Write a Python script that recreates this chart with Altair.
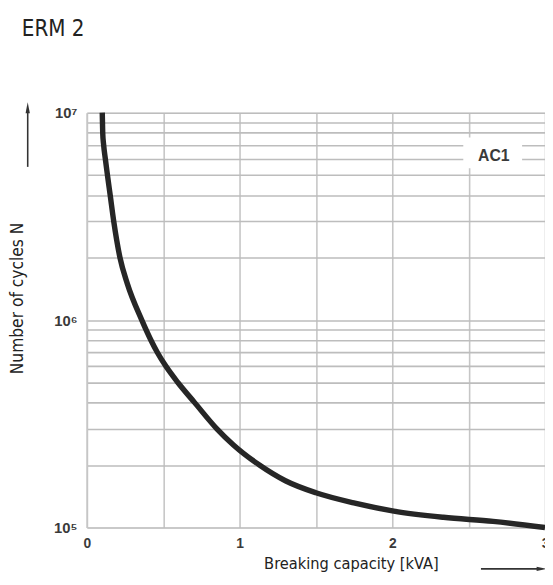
import altair as alt
import pandas as pd

# ---- data ----
cap_kva = [0.101, 0.104, 0.110, 0.121, 0.135, 0.153, 0.176, 0.217, 0.265, 0.360,
           0.420, 0.461, 0.517, 0.596, 0.706, 0.850, 0.960, 1.130, 1.300, 1.500,
           1.755, 2.010, 2.335, 2.660, 3.000]
cycles = [1.0e7, 8.0e6, 7.0e6, 6.0e6, 5.0e6, 4.0e6, 3.0e6, 2.0e6, 1.5e6, 1.0e6,
          8.0e5, 7.0e5, 6.0e5, 5.0e5, 4.0e5, 3.0e5, 2.5e5, 2.0e5, 1.68e5, 1.47e5,
          1.31e5, 1.2e5, 1.12e5, 1.07e5, 1.0e5]

x_grid = [0, 0.5, 1, 1.5, 2, 2.5, 3]
x_tick_labels = [0, 1, 2, 3]
y_grid = [1e5, 2e5, 3e5, 4e5, 5e5, 6e5, 7e5, 8e5, 9e5,
          1e6, 2e6, 3e6, 4e6, 5e6, 6e6, 7e6, 8e6, 9e6, 1e7]
decade_values = [1e5, 1e6, 1e7]
decade_labels = ["10\u2075", "10\u2076", "10\u2077"]

ac_label = ["AC1"]
ac_x = [2.665]
ac_y = [6.17e6]
box_x = [2.465]
box_x2 = [2.85]
box_y = [5.4e6]
box_y2 = [7.6e6]

chart_title = "ERM 2"
x_title = "Breaking capacity [kVA]"
y_title = "Number of cycles N"

COND = "Liberation Sans Narrow, Arial Narrow, DejaVu Sans Condensed, sans-serif"
ARIAL = "Liberation Sans, Arial, Helvetica, sans-serif"

W, H = 465, 421

curve_df = pd.DataFrame({"kva": cap_kva, "n": cycles})
box_df = pd.DataFrame({"kva": box_x, "kva2": box_x2, "n": box_y, "n2": box_y2})
ac_df = pd.DataFrame({"kva": ac_x, "n": ac_y, "label": ac_label})

y_label_expr = " : ".join(
    [f"datum.value == {v} ? '{l}'" for v, l in zip(decade_values, decade_labels)]
) + " : ''"
x_label_expr = "indexof([" + ",".join(str(v) for v in x_tick_labels) + \
    "], datum.value) >= 0 ? format(datum.value, 'd') : ''"

xscale = alt.Scale(domain=[0, 3], nice=False, zero=False)
yscale = alt.Scale(type="log", domain=[1e5, 1e7], nice=False)

x_axis = alt.Axis(values=x_grid, labelExpr=x_label_expr, grid=True, ticks=False,
                  domain=False, labelFlush=False, labelOverlap=False,
                  labelFont=ARIAL, labelFontSize=14, labelFontWeight="bold",
                  labelColor="#3a3a3a", labelPadding=9,
                  gridColor="#c6c6c6", gridWidth=1.6,
                  title=x_title, titleFont=COND, titleFontSize=16.5,
                  titleFontWeight="normal", titleColor="#222222",
                  titleX=268, titleY=37, titleAnchor="middle",
                  titleAlign="center", titleBaseline="middle")
y_axis = alt.Axis(values=y_grid, labelExpr=y_label_expr, grid=True, ticks=False,
                  domain=True, domainColor="#c6c6c6", domainWidth=1.6,
                  labelOverlap=False, labelFlush=False,
                  labelFont=ARIAL, labelFontSize=15, labelFontWeight="bold",
                  labelColor="#3a3a3a", labelPadding=10,
                  gridColor="#bdbdbd", gridWidth=1.6,
                  title=y_title, titleFont=COND, titleFontSize=17.5,
                  titleFontWeight="normal", titleColor="#222222",
                  titleAngle=270, titleX=-70, titleY=188,
                  titleAlign="center", titleBaseline="middle")

curve = alt.Chart(curve_df).mark_line(
    interpolate="monotone", color="#262626", strokeWidth=5.5, strokeCap="butt"
).encode(
    x=alt.X("kva:Q", scale=xscale, axis=x_axis),
    y=alt.Y("n:Q", scale=yscale, axis=y_axis),
)

box = alt.Chart(box_df).mark_rect(color="white").encode(
    x=alt.X("kva:Q", scale=xscale), x2="kva2:Q",
    y=alt.Y("n:Q", scale=yscale), y2="n2:Q",
)

ac_text = alt.Chart(ac_df).mark_text(
    font=ARIAL, fontSize=16, fontWeight="bold", color="#3a3a3a",
    align="center", baseline="middle"
).encode(
    x=alt.X("kva:Q", scale=xscale), y=alt.Y("n:Q", scale=yscale), text="label:N"
)

one = alt.Data(values=[{}])
arrow_head = "M0,-1L-0.4,1L0.4,1Z"

up_shaft = alt.Chart(one).mark_rule(color="#333333", strokeWidth=1.6).encode(
    x=alt.value(-60), y=alt.value(-4), y2=alt.value(55))
up_head = alt.Chart(one).mark_point(shape=arrow_head, filled=True, color="#333333",
                                    size=120, opacity=1).encode(
    x=alt.value(-60), y=alt.value(-5))
right_shaft = alt.Chart(one).mark_rule(color="#333333", strokeWidth=1.6).encode(
    x=alt.value(400), x2=alt.value(461), y=alt.value(463))
right_head = alt.Chart(one).mark_point(shape=arrow_head, filled=True, color="#333333",
                                       size=120, angle=90, opacity=1).encode(
    x=alt.value(462), y=alt.value(463))

title_text = alt.Chart(one).mark_text(
    text=chart_title, font=COND, fontSize=22.5, color="#222222",
    align="left", baseline="alphabetic"
).encode(x=alt.value(-66), y=alt.value(-78))

chart = alt.layer(
    box, ac_text, curve, up_shaft, up_head, right_shaft, right_head, title_text
).properties(
    width=W, height=H,
    padding={"left": 80, "top": 102, "right": 0, "bottom": 46},
    autosize=alt.AutoSizeParams(type="none"),
).configure_view(stroke=None).configure(background="white")

chart.save("out.html", embed_options={"renderer": "svg", "actions": False})
